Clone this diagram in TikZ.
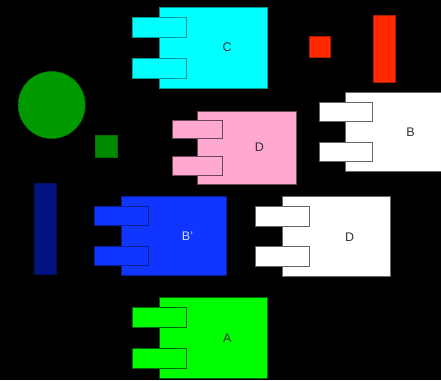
\documentclass[tikz,border=0pt]{standalone}
\usepackage{fontspec}
\setmainfont{Liberation Sans}
\definecolor{cyanfill}{HTML}{00FFFF}
\definecolor{cyanline}{HTML}{009A9A}
\definecolor{pinkfill}{HTML}{FFA8D0}
\definecolor{pinkline}{HTML}{6A4656}
\definecolor{whiteline}{HTML}{666666}
\definecolor{bluefill}{HTML}{1035FF}
\definecolor{blueline}{HTML}{0A1F8F}
\definecolor{limefill}{HTML}{00FF00}
\definecolor{limeline}{HTML}{006600}
\definecolor{redfill}{HTML}{FF2A00}
\definecolor{redline}{HTML}{AA1C00}
\definecolor{circlegreen}{HTML}{009900}
\definecolor{squaregreen}{HTML}{008A00}
\definecolor{navyfill}{HTML}{001380}
\tikzset{
  box/.style={rectangle, anchor=north west, inner sep=0pt, outer sep=0pt, line width=0.9pt},
  label text/.style={font=\fontsize{12.5}{14}\selectfont, inner sep=0pt},
  cyancomp/.style={box, fill=cyanfill, draw=cyanline},
  pinkcomp/.style={box, fill=pinkfill, draw=pinkline},
  whitecomp/.style={box, fill=white, draw=whiteline},
  bluecomp/.style={box, fill=bluefill, draw=blueline},
  limecomp/.style={box, fill=limefill, draw=limeline},
}
% #1 name, #2 style, #3 body x, #4 body y, #5 body w, #6 body h,
% #7 port x, #8 port w, #9 port h; \compports then takes the two port
% y offsets, the label and the label colour
\newcommand{\umlcomp}[9]{%
  \node[#2, minimum width=#5pt, minimum height=#6pt] (#1) at (#3,#4) {};
  \def\cpname{#1}\def\cpstyle{#2}\def\cpx{#7}\def\cpw{#8}\def\cph{#9}%
  \def\cpmx{#3}\def\cpmw{#5}\def\cpmy{#4}\def\cpmh{#6}%
  \compports}
\newcommand{\compports}[4]{%
  \node[\cpstyle, minimum width=\cpw pt, minimum height=\cph pt] (\cpname-p1) at (\cpx,\cpmy+#1) {};
  \node[\cpstyle, minimum width=\cpw pt, minimum height=\cph pt] (\cpname-p2) at (\cpx,\cpmy+#2) {};
  \node[label text, text=#4] (\cpname-t) at ({(\cpx+\cpw+\cpmx+\cpmw)/2},{\cpmy+\cpmh/2}) {#3};}
\begin{document}
\begin{tikzpicture}[x=1pt, y=-1pt]
  \fill[black] (0,0) rectangle (441,380);
  \useasboundingbox (0,0) rectangle (441,380);

  % free shapes
  \node[circle, fill=circlegreen, draw=circlegreen!80!black, line width=0.5pt, minimum size=67pt, inner sep=0pt] (disc) at (51.7,105) {};
  \node[box, fill=squaregreen, draw=squaregreen!80!black, line width=0.5pt, minimum width=21.6pt, minimum height=21.6pt] (sq) at (95.7,135.4) {};
  \node[box, fill=navyfill, draw=navyfill!80!black, line width=0.5pt, minimum width=22pt, minimum height=91pt] (bar) at (34,183.3) {};
  \node[box, fill=redfill, draw=redline, line width=0.5pt, minimum width=21.7pt, minimum height=21pt] (redsq) at (309,36.7) {};
  \node[box, fill=redfill, draw=redline, line width=0.5pt, minimum width=22pt, minimum height=67pt] (redbar) at (373,15) {};

  % components
  \umlcomp{C}{cyancomp}{159.3}{7}{108.4}{81}{132.3}{54.4}{20}{10}{51}{C}{black!80}
  \umlcomp{Dp}{pinkcomp}{197.7}{111}{98.3}{73}{172.7}{50}{18.5}{9}{45.7}{D}{black!80}
  \umlcomp{B}{whitecomp}{345}{92.7}{104}{78.3}{319}{53}{19}{9.6}{49.6}{B}{black!80}
  \umlcomp{Bp}{bluecomp}{121}{196.7}{105.7}{78.3}{94}{54.3}{19}{10}{49.3}{B'}{white!85!blue}
  \umlcomp{Dw}{whitecomp}{282}{196.7}{108}{80}{255}{54.3}{20}{9.3}{50}{D}{black!80}
  \umlcomp{A}{limecomp}{159.3}{297.3}{108.4}{81}{132.3}{54.4}{20}{10.4}{51}{A}{black!80}
\end{tikzpicture}
\end{document}
